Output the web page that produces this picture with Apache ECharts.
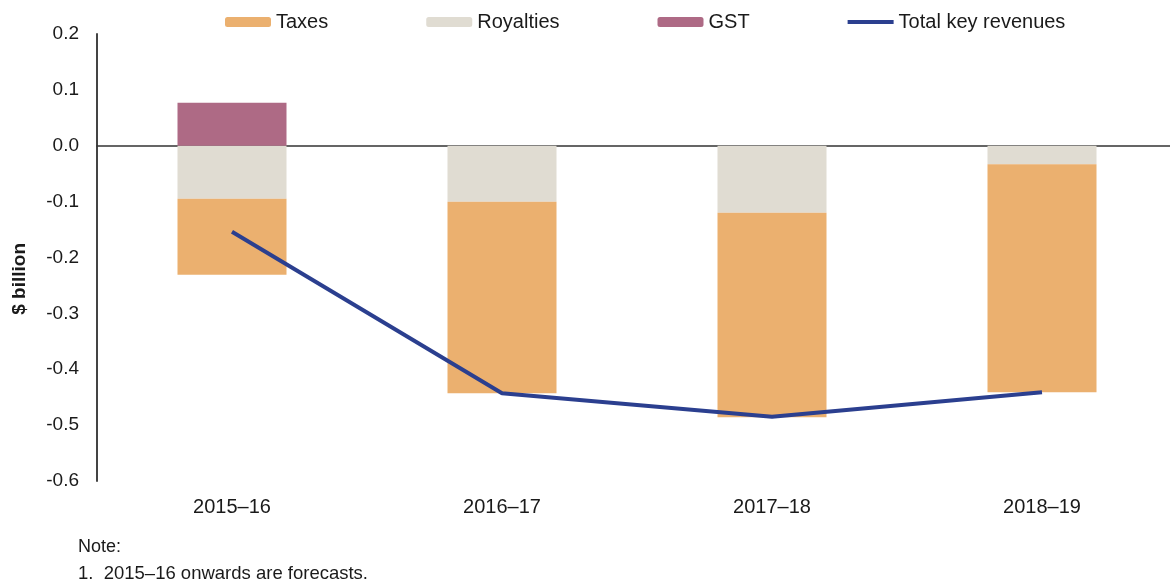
<!DOCTYPE html>
<html>
<head>
<meta charset="utf-8">
<script src="https://cdn.jsdelivr.net/npm/echarts@6/dist/echarts.min.js"></script>
<style>
  html, body { margin: 0; padding: 0; background: #fff; }
  #chart { width: 1170px; height: 583px; }
</style>
</head>
<body>
<div id="chart"></div>
<script>
  const years = ['2015\u201316', '2016\u201317', '2017\u201318', '2018\u201319']
  const taxes = [-0.136, -0.343, -0.366, -0.408]
  const royalties = [-0.095, -0.100, -0.120, -0.033]
  const gst = [0.077, 0, 0, 0]
  const totalKey = [-0.154, -0.443, -0.485, -0.441]
  const yTicks = [0.2, 0.1, 0.0, -0.1, -0.2, -0.3, -0.4, -0.5, -0.6]

  const font = "'Liberation Sans', Arial, sans-serif"

  const chart = echarts.init(document.getElementById('chart'))
  chart.setOption({
    animation: false,
    textStyle: { fontFamily: font },
    legend: {
      top: 7,
      left: 220,
      itemWidth: 46,
      itemHeight: 10,
      itemGap: 98,
      data: [
        'Taxes',
        'Royalties',
        'GST',
        { name: 'Total key revenues', icon: 'path://M0,0H46V4H0Z' },
      ],
      textStyle: { fontSize: 20, color: '#1a1a1a', fontFamily: font },
    },
    // the plot runs a little past the right edge of the picture
    grid: { left: 97, width: 1080, top: 34, bottom: 102, outerBoundsMode: 'none' },
    xAxis: [
      {
        type: 'category',
        data: years,
        axisLine: { show: false },
        axisTick: { show: false },
        axisLabel: { fontSize: 20, color: '#1a1a1a', margin: 16 },
      },
      {
        // zero line
        type: 'category',
        data: years,
        position: 'bottom',
        axisLine: { onZero: true, onZeroAxisIndex: 0, lineStyle: { color: '#333', width: 1.5 } },
        axisTick: { show: false },
        axisLabel: { show: false },
      },
    ],
    yAxis: {
      type: 'value',
      min: -0.6,
      max: 0.2,
      interval: 0.1,
      axisLine: { show: true, onZero: false, lineStyle: { color: '#444', width: 2 } },
      axisTick: { show: false },
      splitLine: { show: false },
      axisLabel: {
        fontSize: 19,
        color: '#1a1a1a',
        margin: 18,
        formatter: (v) => {
          const t = yTicks.find((k) => Math.abs(k - v) < 1e-6)
          return (t === undefined ? v : t).toFixed(1)
        },
      },
    },
    graphic: [
      {
        type: 'text',
        left: 10,
        top: 243,
        rotation: Math.PI / 2,
        style: { text: '$ billion', fontSize: 19, fontWeight: 'bold', fill: '#1a1a1a', fontFamily: font },
      },
      {
        type: 'text',
        left: 78,
        top: 538,
        style: { text: 'Note:', fontSize: 18, fill: '#1a1a1a', fontFamily: font },
      },
      {
        type: 'text',
        left: 78,
        top: 564,
        style: { text: '1.  2015\u201316 onwards are forecasts.', fontSize: 18.5, fill: '#1a1a1a', fontFamily: font },
      },
    ],
    series: [
      {
        name: 'Royalties',
        type: 'bar',
        stack: 'rev',
        barWidth: 109,
        data: royalties,
        itemStyle: { color: '#E0DCD2' },
      },
      {
        name: 'Taxes',
        type: 'bar',
        stack: 'rev',
        barWidth: 109,
        data: taxes,
        itemStyle: { color: '#EBB06F' },
      },
      {
        name: 'GST',
        type: 'bar',
        stack: 'rev',
        barWidth: 109,
        data: gst,
        itemStyle: { color: '#AE6A85' },
      },
      {
        name: 'Total key revenues',
        type: 'line',
        data: totalKey,
        symbol: 'none',
        z: 5,
        lineStyle: { color: '#2B3F8F', width: 4 },
        itemStyle: { color: '#2B3F8F' },
      },
    ],
  })
</script>
</body>
</html>
